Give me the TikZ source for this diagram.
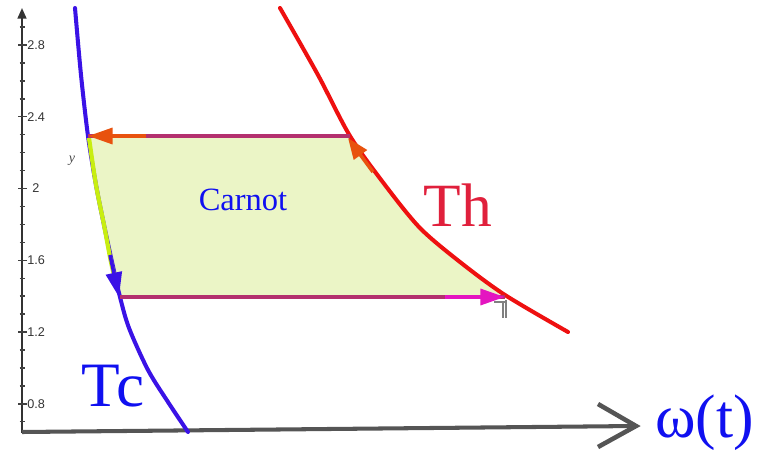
\documentclass[tikz,border=0pt]{standalone}
\usepackage{fontspec}
\setmainfont{Liberation Serif}
\newfontfamily\axfont{Liberation Sans}
\usetikzlibrary{arrows.meta}
\definecolor{tcblue}{HTML}{3A12E6}
\definecolor{threde}{HTML}{EE1010}
\definecolor{lineprp}{HTML}{B3306E}
\definecolor{arrorg}{HTML}{E8520E}
\definecolor{arrmag}{HTML}{E415C0}
\definecolor{ygreen}{HTML}{C8EE10}
\definecolor{fillc}{HTML}{EBF5C6}
\definecolor{axgray}{HTML}{555555}
\definecolor{thtext}{HTML}{E0203C}
\definecolor{wblue}{HTML}{1010F0}
\begin{document}
\begin{tikzpicture}[x=0.02cm,y=-0.02cm,
  curve/.style={line width=2.3pt, line cap=round},
  hline/.style={line width=2.2pt, lineprp},
  tick/.style={line width=0.8pt, black!75},
  ticklbl/.style={font=\axfont\fontsize{7.2}{8}\selectfont, text=black!80, anchor=west, inner sep=0pt},
  hd/.style={-{Triangle[length=14pt,width=9pt]}}
]
\useasboundingbox (0,0) rectangle (758,453);
% corners
\coordinate (A) at (88,136);
\coordinate (B) at (350,136);
\coordinate (C) at (505,297);
\coordinate (D) at (120,297);
% fill
\fill[fillc] (A) -- (B) -- plot[smooth] coordinates {(350,136) (385,185) (420,228) (460,262) (505,297)}
  -- (D) -- plot[smooth] coordinates {(120,297) (104,225) (88,136)} -- cycle;
% vertical axis
\coordinate (yb) at (22,433);
\coordinate (yt) at (22,8);
\draw[line width=1.1pt, black!80, -{Triangle[length=6pt,width=5pt]}] (yb) -- (yt);
\foreach \v in {7,...,29}{
  \pgfmathsetmacro{\yy}{45+(28-\v)*17.94}
  \draw[tick] (19.5,\yy) -- (24.5,\yy);
}
\foreach \v/\l in {28/2.8,24/2.4,16/1.6,12/1.2,8/0.8}{
  \pgfmathsetmacro{\yy}{45+(28-\v)*17.94}
  \draw[tick] (18,\yy) -- (27,\yy);
  \node[ticklbl] (t\v) at (27,\yy) {\l};
}
\pgfmathsetmacro{\yy}{45+(28-20)*17.94}
\draw[tick] (18,\yy) -- (27,\yy);
\node[ticklbl] (t20) at (32,\yy) {2};
% horizontal axis
\coordinate (xo) at (22,432);
\coordinate (xe) at (636,426);
\draw[line width=2.3pt, axgray] (xo) -- (xe);
\coordinate (ch1) at (598,404);
\coordinate (ch2) at (598,447);
\draw[line width=2.6pt, axgray] (ch1) -- (xe) -- (ch2);
\node[font=\fontsize{35}{38}\selectfont, text=wblue, anchor=west, inner sep=0pt] (om) at (655,423) {ω(t)};
% Tc curve
\draw[curve, tcblue] plot[smooth] coordinates {(75,8) (81,75) (88,136) (96,185) (104,225) (112,262) (120,297) (129,328) (148,370) (168,402) (188,432)};
% yellow segment
\draw[line width=2.4pt, ygreen] plot[smooth] coordinates {(89,138) (96,185) (104,225) (111,262) (116,283)};
% Th curve
\draw[curve, threde] plot[smooth] coordinates {(280,8) (318,75) (350,136) (385,185) (420,228) (460,262) (505,295) (568,332)};
% horizontal lines
\draw[hline] (A) -- (B);
\draw[hline] (D) -- (C);
% arrows
\coordinate (oa) at (146,136);
\draw[hd, arrorg, line width=2.2pt] (oa) -- (A);
\coordinate (ma) at (445,297);
\draw[hd, arrmag, line width=2.2pt] (ma) -- (C);
\coordinate (ba) at (110,255);
\draw[hd, tcblue, line width=2pt] (ba) -- (119,297);
\coordinate (ra) at (373,172);
\draw[-{Triangle[length=12pt,width=9pt]}, arrorg, line width=2pt] (ra) -- (348,138);
% small marker
\draw[gray, line width=0.6pt] (494,302) -- (506,302) (503,302) -- (503,318) (506,300) -- (506,318);
% labels
\node[font=\fontsize{18.5}{20}\selectfont, text=wblue] (carnot) at (243,200) {Carnot};
\node[font=\fontsize{35}{36}\selectfont, text=thtext] (th) at (458,205) {Th};
\node[font=\fontsize{36}{36}\selectfont, text=wblue] (tc) at (113,386) {Tc};
\node[font=\itshape\fontsize{8}{9}\selectfont, text=black!70] (y) at (72,161) {y};
\end{tikzpicture}
\end{document}
